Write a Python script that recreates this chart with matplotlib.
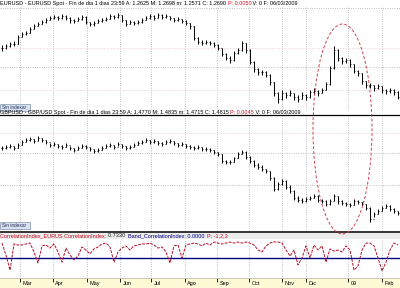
import numpy as np
import matplotlib
matplotlib.use("Agg")
import matplotlib.pyplot as plt
from matplotlib.patches import Ellipse, Rectangle
from matplotlib.lines import Line2D

plt.rcParams['font.family'] = ['Liberation Sans', 'DejaVu Sans']

# --- data (one bar per slot) ---
months = ["Mar", "Apr", "May", "Jun", "Jul", "Ago", "Sep", "Oct", "Nov", "Dic", "09", "Feb"]
month_pos = [4.5, 12.75, 21.25, 29.5, 37.25, 45.75, 53.75, 61.75, 70, 76, 86.5, 95]

eur_close = [1.460, 1.469, 1.477, 1.477, 1.507, 1.519, 1.524, 1.541, 1.553, 1.562,
             1.570, 1.579, 1.587, 1.592, 1.587, 1.596, 1.587, 1.579, 1.575, 1.583,
             1.592, 1.570, 1.562, 1.566, 1.575, 1.579, 1.583, 1.596, 1.592, 1.600,
             1.579, 1.562, 1.570, 1.566, 1.570, 1.579, 1.587, 1.596, 1.587, 1.600,
             1.592, 1.596, 1.587, 1.579, 1.583, 1.575, 1.566, 1.553, 1.502, 1.486,
             1.481, 1.486, 1.481, 1.473, 1.460, 1.435, 1.418, 1.409, 1.439, 1.452,
             1.481, 1.452, 1.401, 1.371, 1.358, 1.358, 1.346, 1.316, 1.269, 1.244,
             1.269, 1.261, 1.269, 1.252, 1.244, 1.261, 1.252, 1.274, 1.278, 1.269,
             1.282, 1.307, 1.375, 1.452, 1.418, 1.405, 1.409, 1.392, 1.363, 1.354,
             1.320, 1.303, 1.303, 1.290, 1.299, 1.282, 1.278, 1.282, 1.274, 1.252]
eur_high = [1.472, 1.478, 1.486, 1.488, 1.515, 1.528, 1.533, 1.550, 1.561, 1.571,
            1.579, 1.588, 1.596, 1.601, 1.597, 1.604, 1.598, 1.590, 1.584, 1.592,
            1.600, 1.594, 1.572, 1.575, 1.583, 1.588, 1.591, 1.604, 1.600, 1.608,
            1.601, 1.580, 1.578, 1.575, 1.579, 1.587, 1.595, 1.604, 1.598, 1.608,
            1.602, 1.604, 1.597, 1.588, 1.591, 1.585, 1.577, 1.566, 1.555, 1.505,
            1.492, 1.494, 1.491, 1.485, 1.475, 1.462, 1.440, 1.425, 1.446, 1.462,
            1.490, 1.483, 1.455, 1.403, 1.375, 1.368, 1.362, 1.348, 1.318, 1.272,
            1.280, 1.275, 1.280, 1.270, 1.260, 1.272, 1.265, 1.284, 1.290, 1.282,
            1.292, 1.315, 1.385, 1.470, 1.455, 1.420, 1.418, 1.412, 1.394, 1.366,
            1.355, 1.322, 1.312, 1.305, 1.308, 1.300, 1.288, 1.292, 1.285, 1.276]
eur_low = [1.448, 1.457, 1.466, 1.468, 1.476, 1.505, 1.514, 1.522, 1.540, 1.552,
           1.560, 1.568, 1.578, 1.583, 1.578, 1.584, 1.578, 1.568, 1.566, 1.573,
           1.580, 1.562, 1.552, 1.555, 1.564, 1.570, 1.574, 1.582, 1.582, 1.588,
           1.570, 1.552, 1.560, 1.557, 1.561, 1.568, 1.578, 1.585, 1.578, 1.586,
           1.582, 1.586, 1.578, 1.570, 1.573, 1.565, 1.556, 1.540, 1.495, 1.476,
           1.471, 1.476, 1.472, 1.464, 1.450, 1.425, 1.408, 1.398, 1.405, 1.436,
           1.448, 1.440, 1.392, 1.360, 1.346, 1.347, 1.335, 1.305, 1.255, 1.228,
           1.240, 1.250, 1.256, 1.240, 1.232, 1.242, 1.240, 1.250, 1.266, 1.258,
           1.268, 1.280, 1.305, 1.372, 1.405, 1.392, 1.398, 1.380, 1.352, 1.342,
           1.308, 1.292, 1.292, 1.278, 1.286, 1.270, 1.266, 1.270, 1.262, 1.245]

gbp_close = [1.956, 1.964, 1.973, 1.956, 1.982, 2.009, 2.027, 2.036, 2.018, 2.044,
             2.027, 2.009, 1.982, 1.991, 1.973, 1.964, 1.982, 1.956, 1.938, 1.956,
             1.973, 1.964, 1.947, 1.929, 1.938, 1.956, 1.973, 1.982, 1.964, 1.991,
             1.973, 1.956, 1.964, 1.982, 2.000, 2.009, 2.027, 2.009, 2.018, 2.000,
             1.991, 2.009, 2.018, 2.000, 1.982, 1.991, 1.973, 1.964, 1.956, 1.964,
             1.947, 1.947, 1.938, 1.920, 1.902, 1.840, 1.831, 1.831, 1.867, 1.902,
             1.920, 1.876, 1.840, 1.804, 1.787, 1.769, 1.751, 1.689, 1.591, 1.636,
             1.662, 1.609, 1.573, 1.511, 1.493, 1.484, 1.502, 1.511, 1.529, 1.493,
             1.484, 1.458, 1.484, 1.529, 1.484, 1.467, 1.458, 1.449, 1.484, 1.475,
             1.458, 1.422, 1.324, 1.369, 1.395, 1.422, 1.440, 1.413, 1.395, 1.378]
gbp_high = [1.975, 1.980, 1.990, 1.975, 1.998, 2.025, 2.042, 2.050, 2.035, 2.058,
            2.045, 2.025, 2.000, 2.008, 1.990, 1.982, 1.998, 1.975, 1.955, 1.972,
            1.990, 1.982, 1.965, 1.948, 1.955, 1.972, 1.990, 1.998, 1.982, 2.008,
            1.992, 1.975, 1.980, 1.998, 2.018, 2.025, 2.042, 2.028, 2.035, 2.018,
            2.008, 2.025, 2.035, 2.020, 2.000, 2.008, 1.990, 1.982, 1.972, 1.980,
            1.965, 1.962, 1.955, 1.940, 1.922, 1.900, 1.850, 1.848, 1.880, 1.918,
            1.935, 1.925, 1.882, 1.845, 1.820, 1.805, 1.772, 1.755, 1.700, 1.655,
            1.680, 1.668, 1.625, 1.578, 1.525, 1.510, 1.520, 1.530, 1.545, 1.535,
            1.505, 1.490, 1.500, 1.545, 1.532, 1.490, 1.475, 1.470, 1.500, 1.495,
            1.480, 1.462, 1.428, 1.385, 1.412, 1.440, 1.458, 1.448, 1.418, 1.400]
gbp_low = [1.940, 1.948, 1.958, 1.940, 1.952, 1.980, 2.010, 2.020, 2.002, 2.015,
           2.010, 1.992, 1.965, 1.975, 1.958, 1.948, 1.962, 1.940, 1.922, 1.935,
           1.955, 1.948, 1.930, 1.912, 1.922, 1.940, 1.955, 1.965, 1.948, 1.972,
           1.955, 1.940, 1.948, 1.962, 1.982, 1.992, 2.008, 1.992, 2.000, 1.982,
           1.975, 1.990, 2.000, 1.984, 1.965, 1.974, 1.955, 1.948, 1.940, 1.948,
           1.930, 1.932, 1.920, 1.905, 1.885, 1.825, 1.815, 1.815, 1.830, 1.865,
           1.900, 1.860, 1.822, 1.788, 1.768, 1.752, 1.735, 1.672, 1.570, 1.585,
           1.630, 1.595, 1.555, 1.495, 1.475, 1.465, 1.480, 1.492, 1.510, 1.475,
           1.468, 1.440, 1.452, 1.485, 1.462, 1.450, 1.440, 1.432, 1.445, 1.458,
           1.440, 1.405, 1.300, 1.345, 1.372, 1.395, 1.420, 1.395, 1.378, 1.360]

corr = [0.84, 0.17, -0.68, 0.79, 0.73, 0.73, 0.79, 0.84, 0.34, -0.28,
        0.68, 0.73, 0.56, 0.79, 0.34, -0.23, 0.56, 0.17, -0.11, 0.11,
        0.62, 0.45, 0.23, 0.51, 0.62, 0.79, 0.84, 0.62, -0.23, 0.34,
        0.56, 0.68, 0.45, 0.68, 0.73, 0.79, 0.79, 0.84, 0.73, 0.56,
        0.62, 0.34, -0.28, 0.68, 0.73, 0.0, 0.73, 0.79, 0.84, 0.79,
        0.68, 0.84, 0.73, 0.90, 0.84, 0.79, 0.84, 0.90, 0.84, 0.90,
        0.84, 0.90, 0.84, 0.73, 0.45, 0.34, 0.68, 0.84, 0.90, 0.90,
        0.84, 0.45, 0.11, 0.45, -0.39, 0.0, 0.68, 0.0, 0.73, 0.45,
        0.68, -0.23, 0.51, 0.39, 0.45, 0.34, 0.68, 0.45, -0.68, -0.45,
        0.45, 0.84, 0.84, 0.68, 0.0, -0.73, -0.23, 0.45, 0.84, 0.733]
corr_band = 0.0

W, H = 400, 288
fig = plt.figure(figsize=(4, 2.88), dpi=100)
fig.patch.set_facecolor("white")
renderer = fig.canvas.get_renderer()


def px_axes(top, bottom):
    ax = fig.add_axes([0, 1 - bottom / H, 1, (bottom - top) / H])
    ax.set_axis_off()
    ax.set_xlim(-0.5, len(eur_close) - 0.5)
    return ax


def month_grid(ax):
    for m in month_pos:
        ax.axvline(m, color="#9a9a9a", lw=0.55, ls=(0, (1, 2)), zorder=0)


def ohlc(ax, hi, lo, cl):
    cl = np.asarray(cl)
    x = np.arange(len(cl))
    op = np.r_[cl[0], cl[:-1]]
    ax.vlines(x, lo, hi, color="black", lw=0.7)
    ax.hlines(op, x - 0.3, x, color="black", lw=0.6)
    ax.hlines(cl, x, x + 0.3, color="black", lw=0.6)


def header(x, y, parts, size=4.0):
    for s, c in parts:
        t = fig.text(x / W, 1 - y / H, s, color=c, fontsize=size, va="center", ha="left")
        x += t.get_window_extent(renderer).width


def sin_indexar(top):
    fig.add_artist(Rectangle((0, 1 - (top + 7) / H), 30 / W, 7 / H, transform=fig.transFigure,
                             facecolor="#d9e2ee", edgecolor="#7f93ad", lw=0.5, zorder=2))
    fig.text(2 / W, 1 - (top + 3.6) / H, "Sin indexar", fontsize=3.4, color="#1f2f5a", va="center")


# background bands, drawn under the axes
fig.add_artist(Rectangle((0, 1 - 239 / H), 1, 7 / H, transform=fig.transFigure,
                         facecolor="#ececec", edgecolor="none", zorder=-1))
fig.add_artist(Rectangle((0, 0), 1, 10 / H, transform=fig.transFigure,
                         facecolor="#fdfbd6", edgecolor="none", zorder=-1))

# top panel: EUR/USD
ax1 = px_axes(6, 111)
ax1.set_ylim(1.193, 1.638)
month_grid(ax1)
ax1.axhline(1.630, color="#9a9a9a", lw=0.55, ls=(0, (1, 2)))
ax1.axhline(1.380, color="#9a9a9a", lw=0.55, ls=(0, (1, 2)))
for v in (1.460, 1.282):
    ax1.axhline(v, color="#f4cdd0", lw=0.55, ls=(0, (2, 2)))
ohlc(ax1, eur_high, eur_low, eur_close)

# middle panel: GBP/USD
ax2 = px_axes(116, 231)
ax2.set_ylim(1.218, 2.240)
month_grid(ax2)
for v in (1.911, 1.627):
    ax2.axhline(v, color="#9a9a9a", lw=0.55, ls=(0, (1, 2)))
ax2.axhline(2.089, color="#f4cdd0", lw=0.55, ls=(0, (2, 2)))
ohlc(ax2, gbp_high, gbp_low, gbp_close)

# bottom panel: correlation index
ax3 = px_axes(239, 278)
ax3.set_ylim(-1.125, 1.069)
month_grid(ax3)
ax3.axhline(corr_band, color="#000080", lw=1.0)
ax3.plot(np.arange(len(corr)), corr, color="#b0102a", lw=0.7, ls=(0, (3, 1.2)))

# separators
for y, lw in ((115, 0.9), (231.5, 1.1)):
    fig.add_artist(Line2D([0, 1], [1 - y / H] * 2, transform=fig.transFigure, color="black", lw=lw))

# x axis band
fig.add_artist(Line2D([0, 1], [10 / H] * 2, transform=fig.transFigure, color="#b5b5a0", lw=0.5))
axx = fig.add_axes([0, 0, 1, 10 / H])
axx.set_axis_off()
axx.set_xlim(-0.5, len(eur_close) - 0.5)
axx.set_ylim(0, 10)
axx.vlines(month_pos, 6.5, 10, color="black", lw=0.6)
for m, lab in zip(month_pos, months):
    axx.text(m + 0.6, 4.5, lab, fontsize=4.0, va="center", ha="left", color="black")

# panel titles
header(0, 3.2, [("EURUSD - EURUSD Spot - Fin de dia 1 dias 23:59 A: 1.2625 M: 1.2698 m: 1.2571 C: 1.2690 ", "black"),
                ("P: 0.0050", "#d01020"), (" V: 0 F: 06/03/2009", "black")])
header(0, 112.3, [("GBPUSD - GBP/USD Spot - Fin de dia 1 dias 23:59 A: 1.4770 M: 1.4835 m: 1.4715 C: 1.4815 ", "black"),
                  ("P: 0.0045", "#d01020"), (" V: 0 F: 06/03/2009", "black")])
header(0, 235.5, [("CorrelationIndex_EURUS CorrelationIndex: ", "#c01020"), ("0.7330  ", "#1a1a1a"),
                  ("Band_CorrelationIndex: 0.0000  ", "#000080"), ("P: -1,2,3", "#c01020")])

sin_indexar(104)
sin_indexar(222)

# highlighted area
fig.add_artist(Ellipse((342.5 / W, 1 - 129 / H), 59 / W, 210 / H, transform=fig.transFigure,
                       fill=False, edgecolor="#d0404f", lw=0.7, ls=(0, (3, 2)), zorder=3))

plt.savefig("out.png", dpi=100, facecolor="white")
